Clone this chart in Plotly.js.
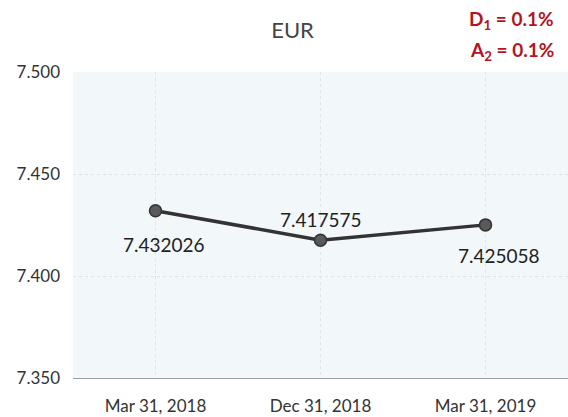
<!DOCTYPE html>
<html>
<head>
<meta charset="utf-8">
<script src="https://cdn.plot.ly/plotly-3.0.1.min.js"></script>
<style>
  body { margin: 0; background: #ffffff; }
  #chart { width: 568px; height: 417px; }
</style>
</head>
<body>
<div id="chart"></div>
<script>
// values
const dates = ["Mar 31, 2018", "Dec 31, 2018", "Mar 31, 2019"]
const rates = [7.432026, 7.417575, 7.425058]
const yTicks = [7.35, 7.40, 7.45, 7.50]
const yTickText = ["7.350", "7.400", "7.450", "7.500"]
const notes = ["D<sub>1</sub> = 0.1%", "A<sub>2</sub> = 0.1%"]

// label offsets (px) relative to each point
const labelShift = [[8, -34], [0, 21], [13, -31]]

const font = "Lato, 'Open Sans', sans-serif"

let trace = {
    x: dates,
    y: rates,
    mode: "lines+markers",
    type: "scatter",
    line: {color: "#333", width: 3.5},
    marker: {size: 12, color: "#5a5a5a", line: {color: "#333", width: 1.5}},
    cliponaxis: false,
    hoverinfo: "none"
}

let pointLabels = rates.map((v, i) => ({
    text: v.toFixed(6),
    x: dates[i], y: v,
    xref: "x", yref: "y",
    showarrow: false,
    xshift: labelShift[i][0],
    yshift: labelShift[i][1],
    font: {family: font, size: 19, color: "#222"}
}))

let noteLabels = notes.map((t, i) => ({
    text: t,
    xref: "paper", yref: "paper",
    x: 1, y: 1.17 - i * 0.1,
    xanchor: "right", yanchor: "middle",
    showarrow: false,
    xshift: -12,
    font: {family: font, size: 19, color: "#b3151f", weight: "bold"}
}))

let layout = {
    width: 568,
    height: 417,
    margin: {l: 73, r: 0, t: 72, b: 39},
    paper_bgcolor: "#ffffff",
    plot_bgcolor: "#f2f7fa",
    showlegend: false,
    title: {
        text: "EUR",
        font: {family: font, size: 22, color: "#444"},
        x: 0.515, xanchor: "center", y: 0.928, yanchor: "middle"
    },
    xaxis: {
        type: "category",
        tickfont: {family: font, size: 17, color: "#333"},
        showgrid: true,
        gridcolor: "#dfe4e8",
        griddash: "dot",
        showline: true,
        linecolor: "#9aa0a6",
        linewidth: 1,
        ticks: "",
        ticklabelstandoff: 13,
        range: [-0.5, 2.5]
    },
    yaxis: {
        range: [7.35, 7.5],
        tickvals: yTicks,
        ticktext: yTickText,
        tickfont: {family: font, size: 17, color: "#333"},
        showgrid: true,
        gridcolor: "#dde2e6",
        griddash: "dot",
        zeroline: false,
        ticks: "",
        ticklabelstandoff: 12
    },
    annotations: pointLabels.concat(noteLabels)
}

Plotly.newPlot("chart", [trace], layout, {staticPlot: true})
</script>
</body>
</html>
